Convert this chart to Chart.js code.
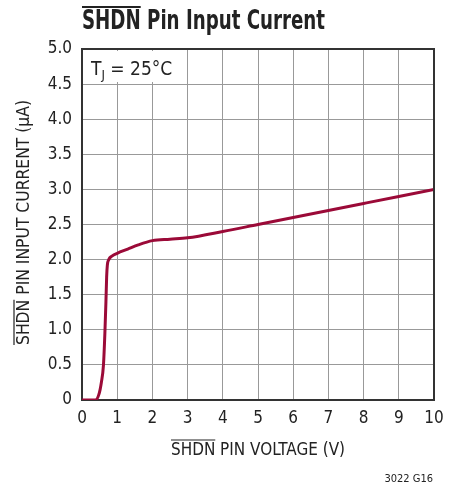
<!DOCTYPE html>
<html><head><meta charset="utf-8">
<script src="https://cdn.jsdelivr.net/npm/chart.js@4"></script>
<style>html,body{margin:0;padding:0;background:#fff}#wrap{width:450px;height:487px}</style>
</head><body><div id="wrap"><canvas id="c" width="450" height="487"></canvas></div>
<script>
const voltage = [0, 0.38, 0.48, 0.55, 0.61, 0.65, 0.68, 0.70, 0.72, 0.76, 0.85, 1.0, 1.3, 1.6, 2.0, 2.5, 3.0, 4, 5, 6, 7, 8, 9, 10];
const current = [0, 0, 0.08, 0.25, 0.5, 0.95, 1.4, 1.75, 1.92, 2.0, 2.05, 2.09, 2.15, 2.21, 2.27, 2.29, 2.31, 2.4, 2.5, 2.6, 2.7, 2.8, 2.9, 3.0];
const xTicks = [0,1,2,3,4,5,6,7,8,9,10];
const yTicks = ['0','0.5','1.0','1.5','2.0','2.5','3.0','3.5','4.0','4.5','5.0'];
const titleText = ['SHDN', ' Pin Input Current'];
const xTitle = ['SHDN', ' PIN VOLTAGE (V)'];
const yTitle = ['SHDN', ' PIN INPUT CURRENT (µA)'];
const noteText = ['T', 'J', ' = 25°C'];
const footText = '3022 G16';

const FF = '"Liberation Sans Narrow","DejaVu Sans Condensed","Liberation Sans",sans-serif';
const points = voltage.map((v,i)=>({x:v,y:current[i]}));

function drawOver(ctx, parts, x, y, font, targetW, lineY, lw){
  ctx.font = font;
  const w0 = ctx.measureText(parts[0]).width;
  const wAll = ctx.measureText(parts[0]+parts[1]).width;
  const s = targetW ? targetW/wAll : 1;
  ctx.save();
  ctx.translate(x,y);
  ctx.scale(s,1);
  ctx.fillText(parts[0]+parts[1],0,0);
  ctx.beginPath();
  ctx.lineWidth = lw;
  ctx.moveTo(0,lineY); ctx.lineTo(w0,lineY);
  ctx.stroke();
  ctx.restore();
}

const textPlugin = {
  id:'texts',
  beforeDatasetsDraw(chart){
    const ctx = chart.ctx, a = chart.chartArea;
    ctx.save();
    ctx.fillStyle='#fff';
    ctx.fillRect(a.left+2, a.top+2, 92, 31);
    ctx.restore();
  },
  afterDraw(chart){
    const ctx = chart.ctx, a = chart.chartArea;
    ctx.save();
    ctx.fillStyle='#222'; ctx.strokeStyle='#222';
    ctx.textBaseline='alphabetic'; ctx.textAlign='left';
    drawOver(ctx, titleText, 82, 29, 'bold 27px '+FF, 243, -22, 2);
    drawOver(ctx, xTitle, 171, 455, '18px '+FF, 174, -15, 1.2);
    ctx.save();
    ctx.translate(29, 345);
    ctx.rotate(-Math.PI/2);
    drawOver(ctx, yTitle, 0, 0, '18px '+FF, 245, -15, 1.2);
    ctx.restore();
    ctx.font='19px '+FF;
    let x = 91, y = 75;
    ctx.fillText(noteText[0], x, y); x += ctx.measureText(noteText[0]).width;
    ctx.font='13px '+FF;
    ctx.fillText(noteText[1], x, y+4); x += ctx.measureText(noteText[1]).width;
    ctx.font='19px '+FF;
    ctx.fillText(noteText[2], x, y);
    ctx.font='11px '+FF; ctx.textAlign='right';
    ctx.fillText(footText, 433, 482);
    ctx.restore();
  }
};

new Chart(document.getElementById('c'), {
  type:'line',
  data:{datasets:[{data:points, borderColor:'#9b0a38', borderWidth:3, pointRadius:0, fill:false, cubicInterpolationMode:'monotone'}]},
  options:{
    responsive:false, animation:false, devicePixelRatio:1,
    layout:{padding:{left:0, right:16, top:49, bottom:0}},
    plugins:{legend:{display:false}, tooltip:{enabled:false}},
    scales:{
      x:{type:'linear', min:0, max:10,
        afterBuildTicks(s){ s.ticks = xTicks.map(v=>({value:v})); },
        afterFit(s){ s.height = 87; s.paddingLeft = 0; s.paddingRight = 0; },
        grid:{color:'#999', lineWidth:1, drawTicks:false},
        border:{color:'#333', width:2},
        ticks:{padding:8, color:'#222', font:{family:FF, size:17}, maxRotation:0, autoSkip:false}
      },
      y:{type:'linear', min:0, max:5,
        afterBuildTicks(s){ s.ticks = yTicks.map(v=>({value:parseFloat(v)})); },
        afterFit(s){ s.width = 82; s.paddingTop = 0; s.paddingBottom = 0; },
        grid:{color:'#999', lineWidth:1, drawTicks:false},
        border:{color:'#333', width:2},
        ticks:{padding:10, color:'#222', font:{family:FF, size:17}, autoSkip:false,
          callback:(v,i)=>yTicks[i]}
      }
    }
  },
  plugins:[textPlugin,{
    id:'frame',
    afterDatasetsDraw(chart){
      const ctx=chart.ctx,a=chart.chartArea;
      ctx.save(); ctx.strokeStyle='#333'; ctx.lineWidth=2;
      ctx.beginPath(); ctx.moveTo(a.left,a.top); ctx.lineTo(a.right,a.top); ctx.lineTo(a.right,a.bottom); ctx.stroke();
      ctx.restore();
    }
  }]
});
</script></body></html>
